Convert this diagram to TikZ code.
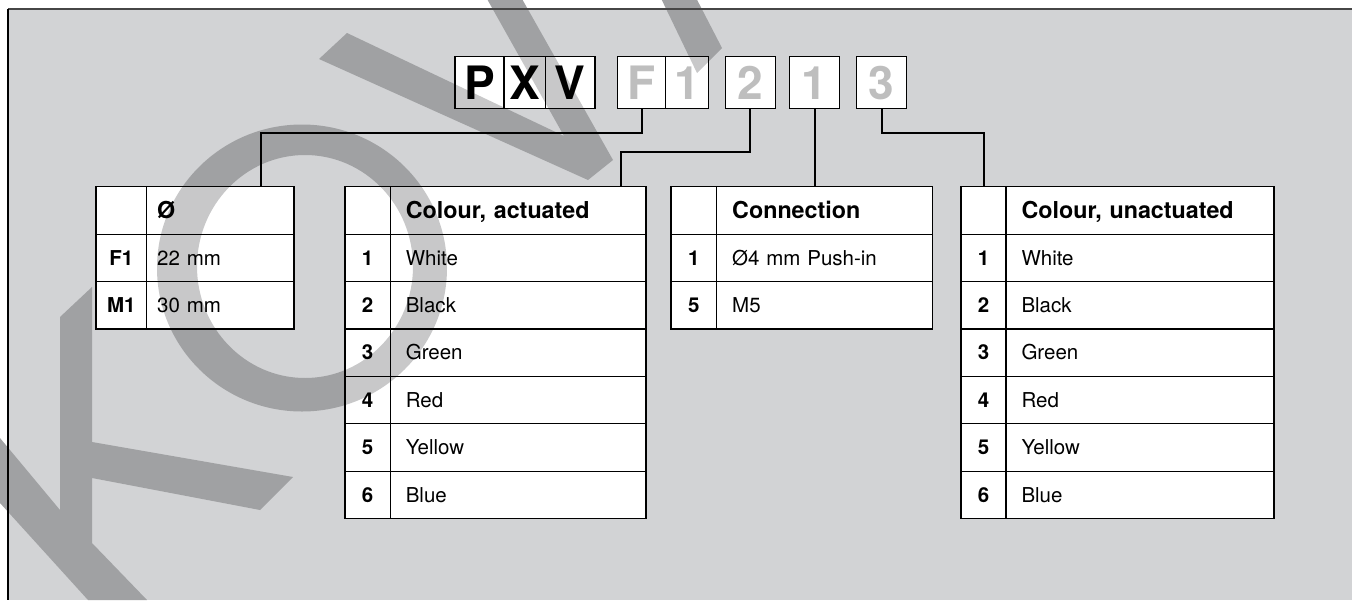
\documentclass[tikz,border=0pt]{standalone}
\usepackage{fontspec}
\setmainfont{TeX Gyre Heros}
\usetikzlibrary{calc}
\pgfdeclarelayer{back}
\pgfdeclarelayer{mid}
\pgfsetlayers{back,mid,main}

\definecolor{bgcol}{RGB}{210,211,213}
\definecolor{wmdark}{RGB}{160,161,163}
\definecolor{wmlight}{RGB}{200,200,201}
\definecolor{codegrey}{RGB}{190,190,190}
\definecolor{framegrey}{RGB}{70,70,70}
\newcommand{\cellfont}{\fontsize{20.5}{24}\selectfont}
\newcommand{\headfont}{\fontsize{23.3}{28}\selectfont\bfseries}
\newcommand{\codefont}{\fontsize{46}{50}\selectfont\bfseries}

\tikzset{
  cell/.style={draw, line width=1.2pt, anchor=north west, inner sep=0pt, outer sep=0pt,
    minimum height=47.4pt, text height=14.7pt, text depth=0pt, font=\cellfont},
  numcell/.style={cell, minimum width=#1, font=\cellfont\bfseries},
  txtcell/.style 2 args={cell, minimum width=#1, text width=#2, inner xsep=15.5pt, align=left},
  headcell/.style 2 args={txtcell={#1}{#2}, font=\headfont, text height=16.8pt},
  codebox/.style={draw, line width=1.4pt, anchor=north west, inner sep=0pt, outer sep=0pt,
    minimum height=51.6pt, text height=33pt, text depth=0pt, font=\codefont},
  wire/.style={line width=2pt},
  % the white parts: code boxes and tables
  paper/.style={insert path={(codeP.north west) rectangle (codeV.south east)
    (codeF.north west) rectangle (codeFa.south east) (code2.north west) rectangle (code2.south east)
    (code1.north west) rectangle (code1.south east) (code3.north west) rectangle (code3.south east)
    (dia0n.north west) rectangle (dia2t.south east) (act0n.north west) rectangle (act6t.south east)
    (conn0n.north west) rectangle (conn2t.south east) (unact0n.north west) rectangle (unact6t.south east)}},
  % the big watermark letters
  kowi/.style={insert path={(0,438) -- (60,510) -- (60,317) -- (92,287) -- (92,442) -- (293,477) -- (260,510)
    -- (92,478) -- (92,543) -- (147,600) -- (88,600) -- (0,503) -- cycle
    (302,268) ellipse [x radius=145, y radius=143.5] (305,266.5) ellipse [x radius=108, y radius=111.5]
    (319,59) -- (347,33) -- (564,136) -- (482,-10) -- (517,-10) -- (613,160) -- (588,180) -- cycle
    (657,-10) -- (692,-10) -- (722,48) -- (697,73) -- cycle}}
}

\begin{document}
\begin{tikzpicture}[x=1pt, y=-1pt]
        \useasboundingbox (0,0) rectangle (1352,600);
        %frame
        \draw[line width=2pt, framegrey] (7.8,8.7) -- (1352,8.7);
        \draw[line width=1.6pt] (7.8,8.7) -- (7.8,600);
        %code
        \node[codebox, minimum width=49pt] (codeP) at (455,56.7) {P};
        \node[codebox, minimum width=41.3pt] (codeX) at (504,56.7) {X};
        \node[codebox, minimum width=49.7pt] (codeV) at (545.3,56.7) {V};
        \node[codebox, minimum width=47.6pt, text=codegrey] (codeF) at (617.7,56.7) {F};
        \node[codebox, minimum width=43.4pt, text=codegrey] (codeFa) at (665.3,56.7) {1};
        \node[codebox, minimum width=50pt, text=codegrey] (code2) at (725.3,56.7) {2};
        \node[codebox, minimum width=50.4pt, text=codegrey] (code1) at (789.3,56.7) {1};
        \node[codebox, minimum width=50pt, text=codegrey] (code3) at (856.7,56.7) {3};
        %diameter
        \node[numcell=50.7pt] (dia0n) at (96,186.7) {};
        \node[headcell={147.3pt}{126.3pt}, inner xsep=10.5pt] (dia0t) at (146.7,186.7) {Ø};
        \node[numcell=50.7pt] (dia1n) at (96,234.1) {F1};
        \node[txtcell={147.3pt}{126.3pt}, inner xsep=10.5pt] (dia1t) at (146.7,234.1) {22 mm};
        \node[numcell=50.7pt] (dia2n) at (96,281.5) {M1};
        \node[txtcell={147.3pt}{126.3pt}, inner xsep=10.5pt] (dia2t) at (146.7,281.5) {30 mm};
        %colour, actuated
        \node[numcell=45.3pt] (act0n) at (345,186.7) {};
        \node[headcell={255.7pt}{224.7pt}] (act0t) at (390.3,186.7) {Colour, actuated};
        \node[numcell=45.3pt] (act1n) at (345,234.1) {1};
        \node[txtcell={255.7pt}{224.7pt}] (act1t) at (390.3,234.1) {White};
        \node[numcell=45.3pt] (act2n) at (345,281.5) {2};
        \node[txtcell={255.7pt}{224.7pt}] (act2t) at (390.3,281.5) {Black};
        \node[numcell=45.3pt] (act3n) at (345,328.9) {3};
        \node[txtcell={255.7pt}{224.7pt}] (act3t) at (390.3,328.9) {Green};
        \node[numcell=45.3pt] (act4n) at (345,376.3) {4};
        \node[txtcell={255.7pt}{224.7pt}] (act4t) at (390.3,376.3) {Red};
        \node[numcell=45.3pt] (act5n) at (345,423.7) {5};
        \node[txtcell={255.7pt}{224.7pt}] (act5t) at (390.3,423.7) {Yellow};
        \node[numcell=45.3pt] (act6n) at (345,471.1) {6};
        \node[txtcell={255.7pt}{224.7pt}] (act6t) at (390.3,471.1) {Blue};
        %connection
        \node[numcell=45.7pt] (conn0n) at (671,186.7) {};
        \node[headcell={216pt}{185pt}] (conn0t) at (716.7,186.7) {Connection};
        \node[numcell=45.7pt] (conn1n) at (671,234.1) {1};
        \node[txtcell={216pt}{185pt}] (conn1t) at (716.7,234.1) {Ø4 mm Push-in};
        \node[numcell=45.7pt] (conn2n) at (671,281.5) {5};
        \node[txtcell={216pt}{185pt}] (conn2t) at (716.7,281.5) {M5};
        %colour, unactuated
        \node[numcell=45pt] (unact0n) at (961,186.7) {};
        \node[headcell={268pt}{237pt}] (unact0t) at (1006,186.7) {Colour, unactuated};
        \node[numcell=45pt] (unact1n) at (961,234.1) {1};
        \node[txtcell={268pt}{237pt}] (unact1t) at (1006,234.1) {White};
        \node[numcell=45pt] (unact2n) at (961,281.5) {2};
        \node[txtcell={268pt}{237pt}] (unact2t) at (1006,281.5) {Black};
        \node[numcell=45pt] (unact3n) at (961,328.9) {3};
        \node[txtcell={268pt}{237pt}] (unact3t) at (1006,328.9) {Green};
        \node[numcell=45pt] (unact4n) at (961,376.3) {4};
        \node[txtcell={268pt}{237pt}] (unact4t) at (1006,376.3) {Red};
        \node[numcell=45pt] (unact5n) at (961,423.7) {5};
        \node[txtcell={268pt}{237pt}] (unact5t) at (1006,423.7) {Yellow};
        \node[numcell=45pt] (unact6n) at (961,471.1) {6};
        \node[txtcell={268pt}{237pt}] (unact6t) at (1006,471.1) {Blue};
        %wires
        \draw[wire] (codeF.south) -- ++(0,25) -| ($(dia0t.north)+(40.6,0)$);
        \draw[wire] (code2.south) -- ++(0,43.4) -| ($(act0t.north)+(103,0)$);
        \draw[wire] (code1.south) -- (code1.south |- conn0t.north);
        \draw[wire] (code3.south) -- ++(0,25) -| (unact0n.north);
        %background and watermark
        \begin{pgfonlayer}{back}
          \fill[bgcol] (7.8,8.7) rectangle (1352,600);
          \fill[wmdark, even odd rule, kowi];
        \end{pgfonlayer}
        \begin{pgfonlayer}{mid}
          \fill[white, paper];
          \begin{scope}
            \clip[paper];
            \fill[wmlight, even odd rule, kowi];
          \end{scope}
        \end{pgfonlayer}
\end{tikzpicture}
\end{document}
